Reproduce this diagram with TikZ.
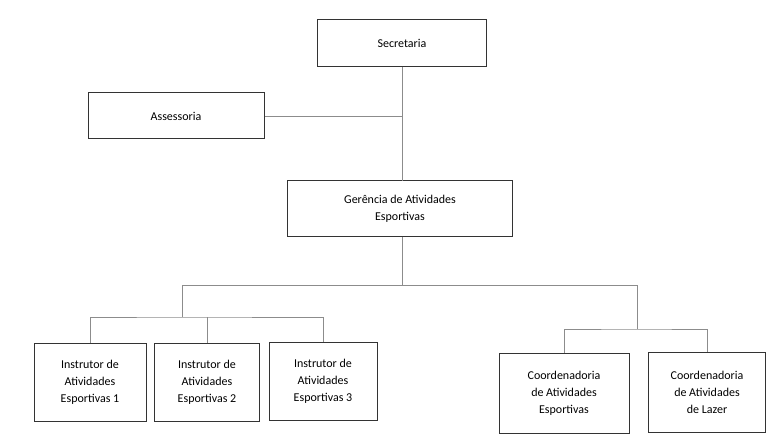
\documentclass[tikz,border=0pt]{standalone}
\usepackage{fontspec}
\setmainfont{Carlito}
\begin{document}
\begin{tikzpicture}[x=1pt,y=-1pt,
 box/.style={draw=black!80,line width=1pt,align=center,font=\fontsize{12}{17}\selectfont,inner sep=0pt},
 ln/.style={draw=black!45,line width=0.8pt}]
\useasboundingbox[fill=white] (0,0) rectangle (784,446);
\node[box,minimum width=169,minimum height=47] (sec) at (402,43) {Secretaria};
\node[box,minimum width=176,minimum height=46] (ass) at (176,116) {Assessoria};
\node[box,minimum width=225,minimum height=56] (ger) at (400,209) {Gerência de Atividades\\Esportivas};
\node[box,minimum width=112,minimum height=78] (i1) at (90,382) {Instrutor de\\Atividades\\Esportivas 1};
\node[box,minimum width=105,minimum height=78] (i2) at (207,382) {Instrutor de\\Atividades\\Esportivas 2};
\node[box,minimum width=108,minimum height=78] (i3) at (323,381) {Instrutor de\\Atividades\\Esportivas 3};
\node[box,minimum width=130,minimum height=80] (c1) at (564,393) {Coordenadoria\\de Atividades\\Esportivas};
\node[box,minimum width=117,minimum height=80] (c2) at (707,392) {Coordenadoria\\de Atividades\\de Lazer};
\coordinate (j1) at (402,116);
\coordinate (j2) at (402,285);
\coordinate (l) at (182,285);
\coordinate (r) at (637,285);
\coordinate (ll) at (182,317);
\coordinate (rr) at (637,329);
\draw[ln] (sec.south) -- (402,181);
\draw[ln] (ass.east) -- (j1);
\draw[ln] (402,237) -- (j2);
\draw[ln] (l) -- (r);
\draw[ln] (l) -- (ll);
\draw[ln] (r) -- (rr);
\draw[ln] (i1.north) |- (ll) -| (i3.north);
\draw[ln] (i2.north) -- (i2.north |- ll);
\draw[ln] (c1.north) |- (rr) -| (c2.north);
\end{tikzpicture}
\end{document}
